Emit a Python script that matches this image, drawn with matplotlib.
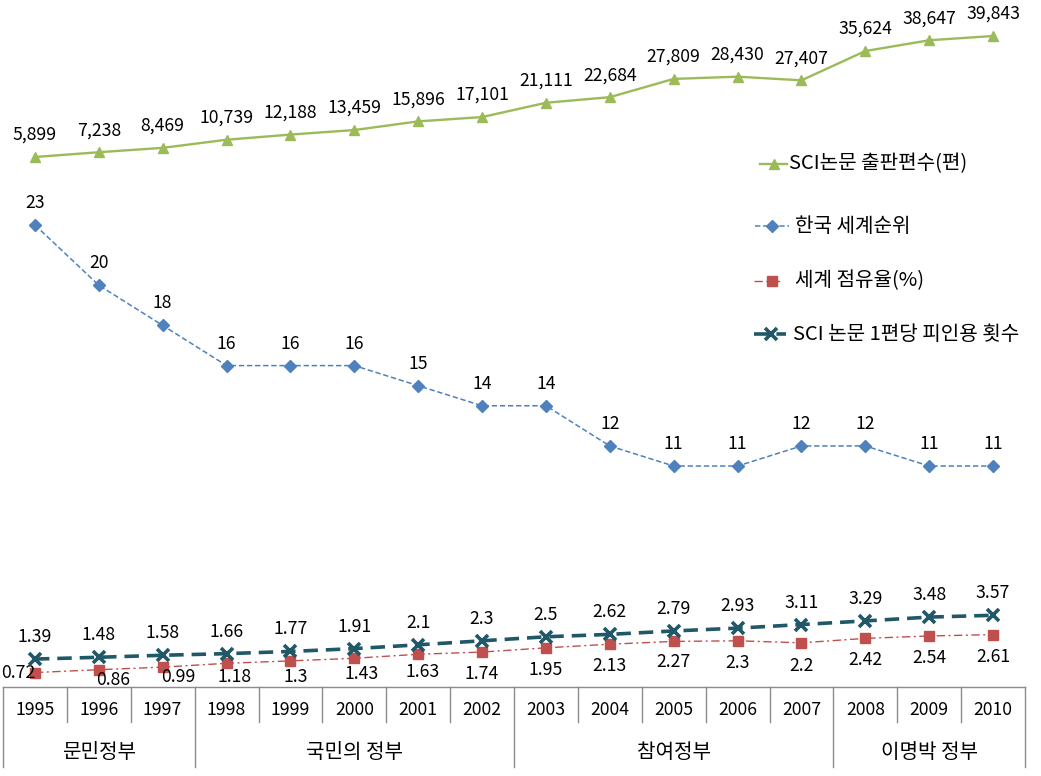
import matplotlib
matplotlib.use("Agg")
import matplotlib.pyplot as plt
import matplotlib.transforms as mtransforms
from matplotlib.lines import Line2D

plt.rcParams['font.family'] = ['Noto Sans CJK KR', 'DejaVu Sans']

# ---------------- data ----------------
years = ['1995', '1996', '1997', '1998', '1999', '2000', '2001', '2002',
         '2003', '2004', '2005', '2006', '2007', '2008', '2009', '2010']
governments = ['문민정부', '국민의 정부', '참여정부', '이명박 정부']
government_spans = [3, 5, 5, 3]  # number of years per government

sci_papers = [5899, 7238, 8469, 10739, 12188, 13459, 15896, 17101,
              21111, 22684, 27809, 28430, 27407, 35624, 38647, 39843]
world_rank = [23, 20, 18, 16, 16, 16, 15, 14, 14, 12, 11, 11, 12, 12, 11, 11]
world_share = [0.72, 0.86, 0.99, 1.18, 1.3, 1.43, 1.63, 1.74,
               1.95, 2.13, 2.27, 2.3, 2.2, 2.42, 2.54, 2.61]
citations = [1.39, 1.48, 1.58, 1.66, 1.77, 1.91, 2.1, 2.3,
             2.5, 2.62, 2.79, 2.93, 3.11, 3.29, 3.48, 3.57]

names = ['SCI논문 출판편수(편)', '한국 세계순위', '세계 점유율(%)', 'SCI 논문 1편당 피인용 횟수']

# ---------------- style ----------------
W, H = 1041, 776
C_GREEN = '#9BBB59'
C_BLUE = '#4F81BD'
C_RED = '#C0504D'
C_TEAL = '#205867'
C_GRID = '#8C8C8C'
FS = 12.7
FS_KR = 14.5

fig = plt.figure(figsize=(W / 100, H / 100), dpi=100)
ax_left, ax_bottom, ax_top, ax_right = 3, 687, 0, 1025
ax = fig.add_axes([ax_left / W, (H - ax_bottom) / H, (ax_right - ax_left) / W, (ax_bottom - ax_top) / H])
ax2 = ax.twinx()
for a in (ax, ax2):
    a.set_axis_off()
    a.set_xlim(-0.5, len(years) - 0.5)
ax.set_ylim(0, 34.2)
ax2.set_ylim(-142782, 49942)

x = list(range(len(years)))
PT = 72 / 100.0  # points per pixel

# lines
ax2.plot(x, sci_papers, color=C_GREEN, lw=1.7, marker='^', ms=7.5, mec=C_GREEN, mfc=C_GREEN,
         clip_on=False, zorder=3)
ax.plot(x, world_rank, color=C_BLUE, lw=1.1, dashes=[3.5, 1.8], marker='D', ms=6.2,
        mec=C_BLUE, mfc=C_BLUE, clip_on=False, zorder=3)
ax.plot(x, world_share, color=C_RED, lw=1.0, dashes=[6, 2.5, 1.5, 2.5], marker='s', ms=6.5,
        mec=C_RED, mfc=C_RED, clip_on=False, zorder=3)
ax.plot(x, citations, color=C_TEAL, lw=2.6, dashes=[4, 2.2], marker='x', ms=8, mew=2.6,
        mec=C_TEAL, clip_on=False, zorder=4)

# data labels
for xi, v in zip(x, sci_papers):
    ax2.annotate(f'{v:,}', (xi, v), xytext=(0, 22 * PT), textcoords='offset points',
                 ha='center', va='center', fontsize=FS, color='black')
for xi, v in zip(x, world_rank):
    ax.annotate(f'{v}', (xi, v), xytext=(0, 22 * PT), textcoords='offset points',
                ha='center', va='center', fontsize=FS, color='black')
for xi, v in zip(x, citations):
    ax.annotate(f'{v:g}', (xi, v), xytext=(0, 22 * PT), textcoords='offset points',
                ha='center', va='center', fontsize=FS, color='black')
red_label_offsets_px = [(-17, 0), (14, 10), (16, 10), (8, 14), (5, 16), (7, 16), (4, 18), (0, 22),
                        (0, 22), (0, 22), (0, 21), (0, 22), (0, 23), (0, 22), (0, 22), (0, 22)]
for xi, v, (dx, dy) in zip(x, world_share, red_label_offsets_px):
    ax.annotate(f'{v:g}', (xi, v), xytext=(dx * PT, -dy * PT), textcoords='offset points',
                ha='center', va='center', fontsize=FS, color='black')

# category table below the axis
trans = mtransforms.blended_transform_factory(ax.transData, ax.transAxes)
span = ax_bottom - ax_top
y_year_sep = -(722 - ax_bottom) / span
y_group_sep = -(767 - ax_bottom) / span
y_year_txt = -(710 - ax_bottom) / span
y_group_txt = -(752 - ax_bottom) / span

ax.plot([-0.5, len(years) - 0.5], [0, 0], color=C_GRID, lw=1.0, transform=trans, clip_on=False)
group_edges = [0]
for s in government_spans:
    group_edges.append(group_edges[-1] + s)
for i in range(len(years) + 1):
    bottom = y_group_sep if i in group_edges else y_year_sep
    ax.plot([i - 0.5, i - 0.5], [0, bottom], color=C_GRID, lw=1.0, transform=trans, clip_on=False)
for xi, yr in zip(x, years):
    ax.text(xi, y_year_txt, yr, transform=trans, ha='center', va='center', fontsize=FS)
for g, a, b in zip(governments, group_edges[:-1], group_edges[1:]):
    ax.text((a + b - 1) / 2, y_group_txt, g, transform=trans, ha='center', va='center', fontsize=FS_KR)

# legend (drawn manually)
def fx(px):
    return px / W

def fy(py):
    return 1 - py / H

legend_specs = [
    dict(x0=760, x1=787, xm=774, xt=789, y=164, color=C_GREEN, lw=1.7, dashes=None, marker='^', ms=7.5, mew=1),
    dict(x0=755, x1=789, xm=772, xt=795, y=226, color=C_BLUE, lw=1.1, dashes=[3.5, 1.8], marker='D', ms=6.2, mew=1),
    dict(x0=754, x1=783, xm=772, xt=795, y=281, color=C_RED, lw=1.0, dashes=[6, 2.5, 1.5, 2.5], marker='s', ms=6.5, mew=1),
    dict(x0=754, x1=786, xm=771, xt=793, y=334, color=C_TEAL, lw=2.6, dashes=[4, 2.2], marker='x', ms=8, mew=2.6),
]
for spec, name in zip(legend_specs, names):
    ln = Line2D([fx(spec['x0']), fx(spec['x1'])], [fy(spec['y']), fy(spec['y'])],
                transform=fig.transFigure, color=spec['color'], lw=spec['lw'])
    if spec['dashes']:
        ln.set_dashes(spec['dashes'])
    fig.add_artist(ln)
    mk = Line2D([fx(spec['xm'])], [fy(spec['y'])], transform=fig.transFigure, color=spec['color'],
                lw=0, marker=spec['marker'], ms=spec['ms'], mew=spec['mew'],
                mec=spec['color'], mfc=spec['color'])
    fig.add_artist(mk)
    fig.text(fx(spec['xt']), fy(spec['y']), name, ha='left', va='center', fontsize=FS_KR)

fig.savefig('out.png', dpi=100)
